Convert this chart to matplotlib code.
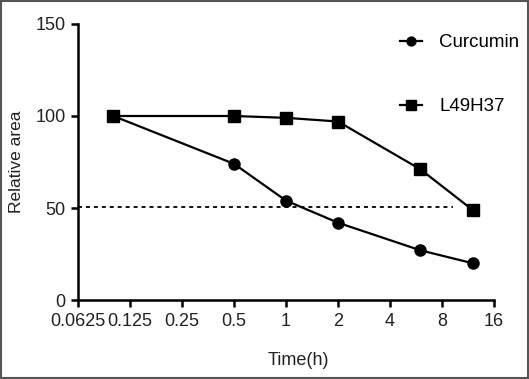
import numpy as np
import matplotlib.pyplot as plt
from matplotlib.patches import Rectangle

plt.rcParams['font.family'] = ['Liberation Sans', 'DejaVu Sans']

# data
time_h = [0.1, 0.5, 1, 2, 6, 12]
curcumin = [100, 74, 54, 42, 27, 20]
l49h37 = [100, 100, 99, 97, 71, 49]
half_level = 50.5
xticks = [0.0625, 0.125, 0.25, 0.5, 1, 2, 4, 8, 16]
xtick_labels = ["0.0625", "0.125", "0.25", "0.5", "1", "2", "4", "8", "16"]
yticks = [0, 50, 100, 150]

fig = plt.figure(figsize=(5.29, 3.79), dpi=100)
ax = fig.add_axes([0.1475, 0.2084, 0.7865, 0.7283])

ax.set_xscale('log', base=2)
ax.hlines(half_level, 0.0625, 9.2, colors='black', linestyles=(0, (2.2, 2.2)), lw=1.3)
ax.plot(time_h, curcumin, '-o', color='black', lw=1.6, ms=8, clip_on=False, label='Curcumin')
ax.plot(time_h, l49h37, '-s', color='black', lw=1.6, ms=8.5, clip_on=False, label='L49H37')

ax.set_xlim(0.0625, 16)
ax.set_ylim(0, 150)
ax.set_xticks(xticks)
ax.set_xticklabels(xtick_labels)
ax.minorticks_off()
ax.set_yticks(yticks)

for s in ['top', 'right']:
    ax.spines[s].set_visible(False)
for s in ['left', 'bottom']:
    ax.spines[s].set_linewidth(1.8)
ax.tick_params(axis='both', direction='out', length=5, width=1.8, labelsize=13,
               labelcolor='#222222', pad=4)

ax.set_xlabel('Time(h)', fontsize=13, color='#222222')
ax.xaxis.set_label_coords(0.53, -0.19)
ax.set_ylabel('Relative area', fontsize=12.5, color='#222222', labelpad=8)

ax.legend(loc='upper left', bbox_to_anchor=(0.733, 1.025), frameon=False, fontsize=13.5,
          handlelength=1.2, handletextpad=0.9, labelspacing=2.5, markerscale=0.8)

fig.patches.append(Rectangle((0.002, 0.003), 0.996, 0.994, transform=fig.transFigure,
                             fill=False, edgecolor='#555555', lw=1.5))

fig.savefig('out.png', dpi=100)
